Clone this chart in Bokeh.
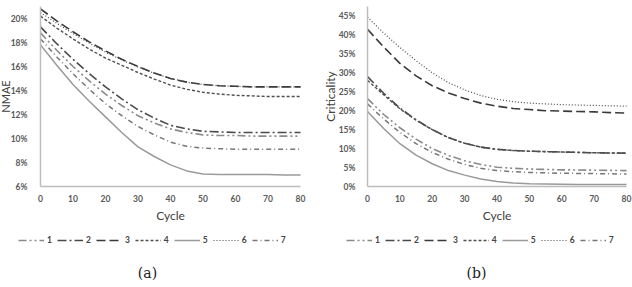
from bokeh.plotting import figure
from bokeh.layouts import row
from bokeh.models import FixedTicker, PrintfTickFormatter, Legend, LegendItem, Label, Range1d
from bokeh.embed import file_html
from bokeh.resources import INLINE

cycles = [0, 5, 10, 15, 20, 25, 30, 35, 40, 45, 50, 55, 60, 65, 70, 75, 80]
series_names = ["1", "2", "3", "4", "5", "6", "7"]

# (a) NMAE (%)
nmae_1 = [18.8, 17.35, 16.0, 14.8, 13.7, 12.75, 11.9, 11.3, 10.8, 10.5, 10.3, 10.25, 10.25, 10.2, 10.2, 10.2, 10.2]
nmae_2 = [19.3, 17.9, 16.6, 15.4, 14.3, 13.3, 12.4, 11.7, 11.1, 10.8, 10.6, 10.55, 10.5, 10.5, 10.5, 10.5, 10.5]
nmae_3 = [20.8, 19.8, 18.9, 18.05, 17.3, 16.6, 16.0, 15.45, 15.0, 14.7, 14.5, 14.4, 14.35, 14.3, 14.3, 14.3, 14.3]
nmae_4 = [20.2, 19.2, 18.3, 17.45, 16.7, 16.1, 15.5, 14.95, 14.45, 14.1, 13.85, 13.7, 13.6, 13.55, 13.5, 13.5, 13.5]
nmae_5 = [17.8, 16.1, 14.5, 13.1, 11.8, 10.5, 9.3, 8.5, 7.8, 7.3, 7.05, 7.0, 7.0, 7.0, 7.0, 6.95, 6.95]
nmae_6 = [20.5, 19.6, 18.75, 17.95, 17.2, 16.55, 15.95, 15.45, 15.0, 14.7, 14.5, 14.4, 14.35, 14.3, 14.3, 14.3, 14.3]
nmae_7 = [18.3, 16.8, 15.4, 14.1, 12.9, 11.9, 11.0, 10.3, 9.7, 9.35, 9.2, 9.15, 9.1, 9.1, 9.1, 9.1, 9.1]

# (b) Criticality (%)
crit_1 = [23.2, 19.0, 15.5, 12.5, 10.0, 8.2, 6.8, 5.8, 5.1, 4.8, 4.6, 4.5, 4.4, 4.35, 4.3, 4.25, 4.2]
crit_2 = [29.0, 24.6, 20.7, 17.6, 15.0, 12.9, 11.4, 10.4, 9.8, 9.5, 9.3, 9.2, 9.1, 9.0, 8.9, 8.85, 8.8]
crit_3 = [41.5, 36.8, 32.5, 29.2, 26.6, 24.7, 23.2, 22.0, 21.2, 20.6, 20.3, 20.0, 19.9, 19.8, 19.7, 19.5, 19.4]
crit_4 = [28.0, 24.2, 20.5, 17.5, 15.0, 12.9, 11.4, 10.4, 9.8, 9.5, 9.3, 9.2, 9.1, 9.0, 8.9, 8.85, 8.8]
crit_5 = [19.8, 15.3, 11.3, 8.3, 6.0, 4.2, 3.0, 2.0, 1.3, 0.9, 0.7, 0.65, 0.6, 0.55, 0.5, 0.5, 0.5]
crit_6 = [44.7, 40.5, 36.7, 33.2, 30.0, 27.4, 25.5, 24.0, 23.0, 22.4, 22.0, 21.8, 21.6, 21.5, 21.4, 21.3, 21.2]
crit_7 = [21.8, 17.8, 14.3, 11.3, 9.0, 7.2, 5.8, 4.8, 4.2, 3.9, 3.7, 3.6, 3.5, 3.45, 3.4, 3.35, 3.3]

x_ticks = [0, 10, 20, 30, 40, 50, 60, 70, 80]
nmae_ticks = [6, 8, 10, 12, 14, 16, 18, 20]
crit_ticks = [0, 5, 10, 15, 20, 25, 30, 35, 40, 45]

styles = {
    "1": dict(color="#8a8a8a", dash="8 3 2 3 2 3", width=1.6),
    "2": dict(color="#4a4a4a", dash="9 3 2 3", width=1.6),
    "3": dict(color="#3a3a3a", dash="9 4", width=1.6),
    "4": dict(color="#505050", dash="3 2", width=1.4),
    "5": dict(color="#9a9a9a", dash="solid", width=1.5),
    "6": dict(color="#4a4a4a", dash="1 2", width=1.2),
    "7": dict(color="#777777", dash="5 3 1 3", width=1.5),
}

FONT = "Lato"
W, H = 316, 287


def make_panel(data, yticks, ylabel, caption, x0_px, x80_px, ybot_px, ytop_px,
               legend_x, ylab_standoff, ytick_standoff, caption_x, ylab_size):
    xs = 80.0 / (x80_px - x0_px)
    ymin, ymax = yticks[0], yticks[-1] + (yticks[1] - yticks[0]) / 2.0
    ys = (ymax - ymin) / (ybot_px - ytop_px)
    xr = Range1d(-x0_px * xs, (W - x0_px) * xs)
    yr = Range1d(ymin - (H - ybot_px) * ys, ymax + ytop_px * ys)
    p = figure(width=W, height=H, output_backend="svg", toolbar_location=None,
               x_range=xr, y_range=yr, min_border=0)
    p.outline_line_color = None
    p.grid.visible = False
    p.xaxis.fixed_location = ymin
    p.yaxis.fixed_location = 0
    p.xaxis.bounds = (0, 80)
    p.yaxis.bounds = (ymin, ymax)
    for ax in (p.xaxis[0], p.yaxis[0]):
        ax.axis_line_color = "#bdbdbd"
        ax.axis_line_width = 1.5
        ax.major_tick_line_color = None
        ax.minor_tick_line_color = None
        ax.major_label_text_font = FONT
        ax.major_label_text_font_style = "bold"
        ax.major_label_text_font_size = "8.5px"
        ax.major_label_text_color = "#595959"
        ax.axis_label_text_font = FONT
        ax.axis_label_text_font_style = "normal"
        ax.axis_label_text_font_size = "12px"
        ax.axis_label_text_color = "#404040"
    p.yaxis.axis_label_text_font_size = ylab_size
    p.xaxis.ticker = FixedTicker(ticks=x_ticks)
    p.yaxis.ticker = FixedTicker(ticks=yticks)
    p.yaxis.formatter = PrintfTickFormatter(format="%d%%")
    p.xaxis.axis_label = "Cycle"
    p.yaxis.axis_label = ylabel
    p.xaxis.major_label_standoff = 2
    p.xaxis.axis_label_standoff = 3
    p.yaxis.major_label_standoff = ytick_standoff
    p.yaxis.axis_label_standoff = ylab_standoff

    items = []
    for name, vals in zip(series_names, data):
        st = styles[name]
        r = p.line(cycles, vals, line_color=st["color"], line_dash=st["dash"], line_width=st["width"])
        items.append(LegendItem(label=name, renderers=[r]))
    leg = Legend(items=items, orientation="horizontal", location=(legend_x, 42),
                 glyph_width=26, glyph_height=8, label_standoff=3, spacing=5,
                 label_width=4, label_height=8,
                 label_text_font=FONT, label_text_font_style="bold",
                 label_text_font_size="8.5px", label_text_color="#444444",
                 border_line_color=None, background_fill_alpha=0,
                 padding=0, margin=0)
    p.add_layout(leg, "center")
    p.add_layout(Label(x=caption_x, y=H - 272, x_units="screen", y_units="screen",
                       text=caption, text_align="center", text_baseline="middle",
                       text_font="DejaVu Serif", text_font_size="14px",
                       text_color="#222222"))
    return p


p1 = make_panel([nmae_1, nmae_2, nmae_3, nmae_4, nmae_5, nmae_6, nmae_7],
                nmae_ticks, "NMAE", "(a)", 40, 300, 186, 6, 18, -4, 7, 147, "11px")
p2 = make_panel([crit_1, crit_2, crit_3, crit_4, crit_5, crit_6, crit_7],
                crit_ticks, "Criticality", "(b)", 51, 310, 186, 6, 30, -2, 6, 160, "12px")

layout = row(p1, p2)
open("out.html", "w").write(file_html(layout, INLINE))
